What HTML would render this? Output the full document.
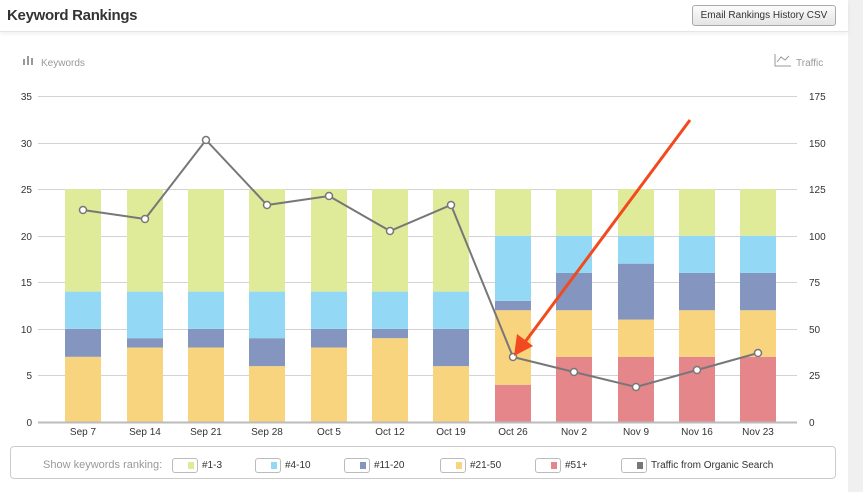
<!DOCTYPE html>
<html><head><style>
body{margin:0;width:863px;height:492px;overflow:hidden;background:#fff;font-family:"Liberation Sans",sans-serif;position:relative}
.strip{position:absolute;left:848px;top:0;width:15px;height:492px;background:#f0f0f0}
.hdr{position:absolute;left:0;top:0;width:848px;height:31px;border-bottom:1px solid #e6e6e6;box-shadow:0 2px 4px rgba(0,0,0,0.06)}
.title{position:absolute;left:7px;top:7px;font-size:15px;font-weight:bold;color:#333;letter-spacing:-0.3px}
.btn{position:absolute;left:692px;top:5px;width:142px;height:19px;border:1px solid #aaa;border-radius:3px;background:linear-gradient(#fcfcfc,#e4e4e4);font-size:10px;color:#333;text-align:center;line-height:19px}
.legend{position:absolute;left:10px;top:446px;width:824px;height:31px;border:1px solid #ccc;border-radius:4px;font-size:10px;color:#333}
.lg{position:absolute;top:11px;height:15px;line-height:15px}
.tg{display:inline-block;width:24px;height:13px;border:1px solid #bbb;border-radius:3px;vertical-align:middle;position:relative;background:#fff;margin-right:4px}
.tg i{position:absolute;right:3px;top:3px;width:6px;height:7px}
</style></head><body>
<div class="strip"></div>
<div class="hdr"><div class="title">Keyword Rankings</div><div class="btn">Email Rankings History CSV</div></div>
<svg width="848" height="445" style="position:absolute;left:0;top:0" font-family="Liberation Sans, sans-serif">
<g font-size="10" fill="#999">
<text x="41" y="66">Keywords</text>
<rect x="23" y="59" width="2" height="6"/><rect x="27" y="56" width="2" height="9"/><rect x="31" y="58" width="2" height="7"/>
<text x="796" y="66">Traffic</text>
<path d="M775 54 V66 H791 M777 62 L781 57 L785 60 L789 56" stroke="#999" fill="none" stroke-width="1"/>
</g>
<g stroke="#d3d3d3" stroke-width="1">
<line x1="38" x2="797" y1="96.5" y2="96.5"/><line x1="38" x2="797" y1="143.5" y2="143.5"/><line x1="38" x2="797" y1="189.5" y2="189.5"/><line x1="38" x2="797" y1="236.5" y2="236.5"/><line x1="38" x2="797" y1="282.5" y2="282.5"/><line x1="38" x2="797" y1="329.5" y2="329.5"/><line x1="38" x2="797" y1="375.5" y2="375.5"/>
</g>
<g font-size="10" fill="#333" text-anchor="end">
<text x="32" y="100">35</text><text x="32" y="147">30</text><text x="32" y="193">25</text><text x="32" y="240">20</text><text x="32" y="286">15</text><text x="32" y="333">10</text><text x="32" y="379">5</text><text x="32" y="426">0</text>
</g>
<g font-size="10" fill="#333">
<text x="809" y="100">175</text><text x="809" y="147">150</text><text x="809" y="193">125</text><text x="809" y="240">100</text><text x="809" y="286">75</text><text x="809" y="333">50</text><text x="809" y="379">25</text><text x="809" y="426">0</text>
</g>
<g id="bars"></g>
<line x1="38" x2="797" y1="422.5" y2="422.5" stroke="#bbb" stroke-width="2"/>
<g font-size="10" fill="#333" text-anchor="middle" id="xl"></g>
<polyline points="83,210 145,219 206,140 267,205 329,196 390,231 451,205 513,357 574,372 636,387 697,370 758,353" fill="none" stroke="#777" stroke-width="2"/>
<g id="dots" fill="#fff" stroke="#777" stroke-width="1.5"></g>
<line x1="690" y1="120" x2="525" y2="342" stroke="#f24a1f" stroke-width="3"/>
<polygon points="514,356 517,334 533,346" fill="#f24a1f"/>
</svg>
<div class="legend">
<span class="lg" style="left:32px;color:#999;font-size:11px">Show keywords ranking:</span>
<span class="lg" style="left:161px"><span class="tg"><i style="background:#e0eb9a"></i></span>#1-3</span>
<span class="lg" style="left:244px"><span class="tg"><i style="background:#93d9f5"></i></span>#4-10</span>
<span class="lg" style="left:333px"><span class="tg"><i style="background:#8495c0"></i></span>#11-20</span>
<span class="lg" style="left:429px"><span class="tg"><i style="background:#f9d47e"></i></span>#21-50</span>
<span class="lg" style="left:524px"><span class="tg"><i style="background:#e5868b"></i></span>#51+</span>
<span class="lg" style="left:610px"><span class="tg"><i style="background:#777"></i></span>Traffic from Organic Search</span>
</div>
<script>
var ns="http://www.w3.org/2000/svg";
var cx=[83,145,206,267,329,390,451,513,574,636,697,758];
var lab=["Sep 7","Sep 14","Sep 21","Sep 28","Oct 5","Oct 12","Oct 19","Oct 26","Nov 2","Nov 9","Nov 16","Nov 23"];
var col=["#e5868b","#f9d47e","#8495c0","#93d9f5","#e0eb9a"];
var d=[[0,7,3,4,11],[0,8,1,5,11],[0,8,2,4,11],[0,6,3,5,11],[0,8,2,4,11],[0,9,1,4,11],[0,6,4,4,11],[4,8,1,7,5],[7,5,4,4,5],[7,4,6,3,5],[7,5,4,4,5],[7,5,4,4,5]];
var s=326/35,g=document.getElementById("bars"),xl=document.getElementById("xl"),dt=document.getElementById("dots");
var py=[210,219,140,205,196,231,205,357,372,387,370,353];
for(var i=0;i<12;i++){var b=0;for(var k=0;k<5;k++){var v=d[i][k];if(!v)continue;var r=document.createElementNS(ns,"rect");r.setAttribute("x",cx[i]-18);r.setAttribute("width",36);r.setAttribute("y",422-(b+v)*s);r.setAttribute("height",v*s);r.setAttribute("fill",col[k]);g.appendChild(r);b+=v;}
var t=document.createElementNS(ns,"text");t.setAttribute("x",cx[i]);t.setAttribute("y",435);t.textContent=lab[i];xl.appendChild(t);
var c=document.createElementNS(ns,"circle");c.setAttribute("cx",cx[i]);c.setAttribute("cy",py[i]);c.setAttribute("r",3.5);dt.appendChild(c);}
</script>
</body></html>
